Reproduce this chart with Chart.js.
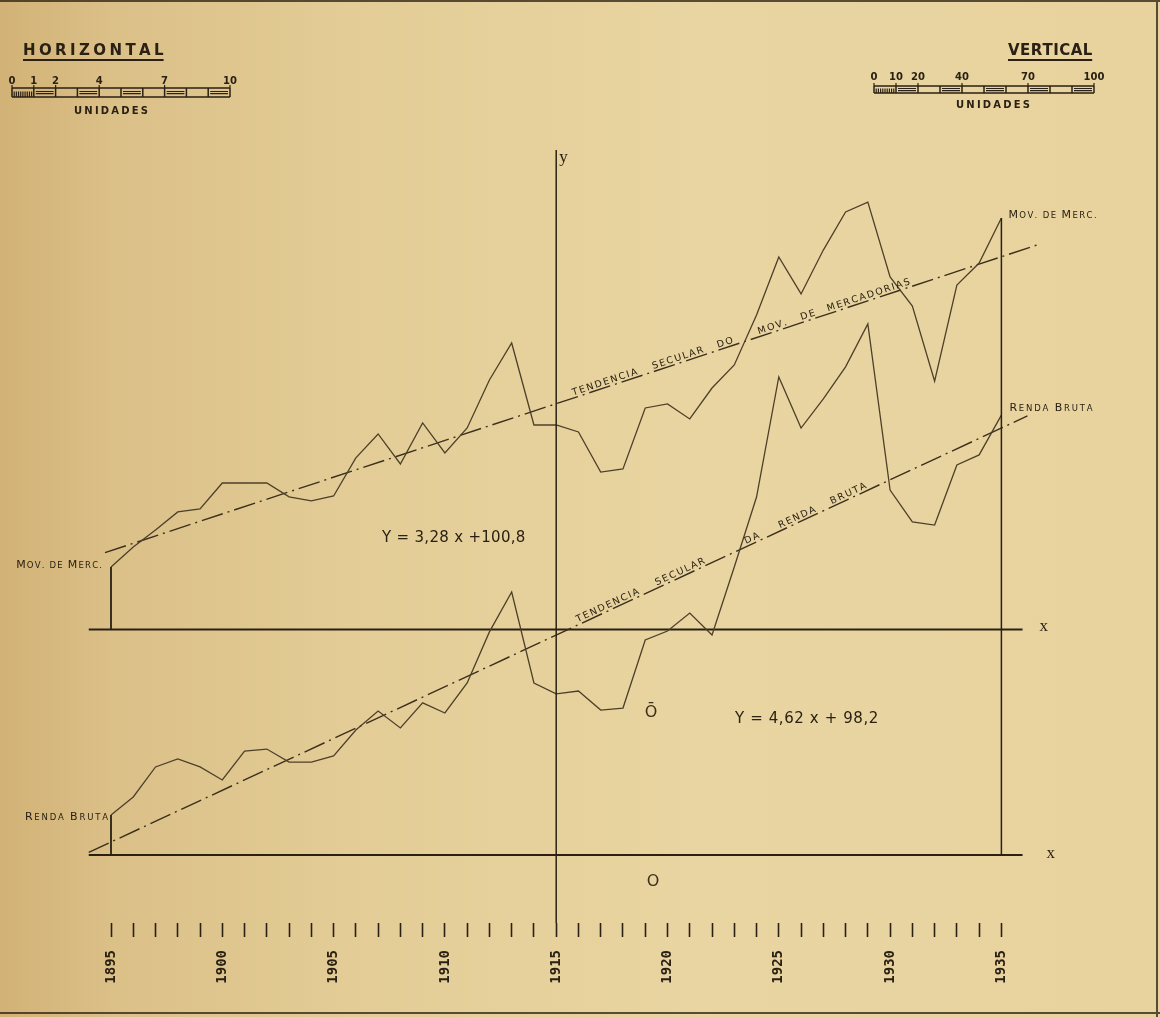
<!DOCTYPE html>
<html>
<head>
<meta charset="utf-8">
<title>Movimento de Mercadorias e Renda Bruta, 1895-1935</title>
<script src="https://cdn.jsdelivr.net/npm/chart.js@4.4.1/dist/chart.umd.min.js"></script>
<style>
  html, body { margin: 0; padding: 0; background: #e6d19c; }
  canvas { display: block; }
</style>
</head>
<body>
<canvas id="grafico" width="1160" height="1017"></canvas>
<script>
// ---- data -------------------------------------------------------------
const years = [1895, 1896, 1897, 1898, 1899, 1900, 1901, 1902, 1903, 1904,
               1905, 1906, 1907, 1908, 1909, 1910, 1911, 1912, 1913, 1914,
               1915, 1916, 1917, 1918, 1919, 1920, 1921, 1922, 1923, 1924,
               1925, 1926, 1927, 1928, 1929, 1930, 1931, 1932, 1933, 1934, 1935];

// Movimento de mercadorias (unidades)
const movMercadorias = [27.9, 36.8, 44.4, 52.5, 53.8, 65.4, 65.4, 65.4, 59.2, 57.4,
                        59.6, 76.6, 87.3, 73.9, 92.2, 78.8, 90.0, 111.4, 127.9, 91.3,
                        91.3, 88.2, 70.3, 71.7, 98.9, 100.7, 94.0, 107.8, 118.1, 140.4,
                        166.3, 149.8, 169.4, 186.4, 190.8, 157.4, 144.4, 110.9, 153.8, 163.6, 183.7];

// Renda bruta (unidades)
const rendaBruta = [17.9, 25.9, 39.3, 42.9, 39.3, 33.5, 46.4, 47.3, 41.5, 41.5,
                    44.2, 55.8, 64.3, 56.7, 67.9, 63.4, 76.8, 99.6, 117.4, 76.8,
                    71.9, 73.2, 64.7, 65.6, 96.0, 100.0, 108.0, 98.2, 128.6, 159.8,
                    213.4, 190.6, 203.6, 217.9, 237.1, 162.9, 148.7, 147.3, 174.1, 178.6, 196.4];

const yearLabels = [1895, 1900, 1905, 1910, 1915, 1920, 1925, 1930, 1935];

// secular trends  Y = a·x + b, x counted in years from the origin year
const originYear = 1915;
const movTrendEq = [3.28, 100.8];
const rendaTrendEq = [4.62, 98.2];
const movTrendSpan = [1894.73, 1936.73];
const rendaTrendSpan = [1894.0, 1936.17];
const baselineSpan = [1894.0, 1935.95];

// words written along each trend line, with the year where each word starts
const movTrendWords = ['TENDENCIA', 'SECULAR', 'DO', 'MOV.', 'DE', 'MERCADORIAS'];
const movTrendWordYears = [1915.80, 1919.39, 1922.30, 1924.14, 1926.06, 1927.25];
const rendaTrendWords = ['TENDENCIA', 'SECULAR', 'DA', 'RENDA', 'BRUTA'];
const rendaTrendWordYears = [1916.02, 1919.57, 1923.57, 1925.10, 1927.43];

// graphic scales printed in the corners
const horizScaleTicks = [0, 1, 2, 4, 7, 10];
const vertScaleTicks = [0, 10, 20, 40, 70, 100];

// ---- styling ----------------------------------------------------------
const INK = '#2a2114';
const PEN = '#4d402a';
const FONT = '"DejaVu Sans", "Liberation Sans", sans-serif';

const trendAt = (eq, yr) => eq[0] * (yr - originYear) + eq[1];

// ---- text helpers -----------------------------------------------------
function spacedText(ctx, str, x, y, gap, align) {
  const chars = [...str];
  const widths = chars.map(ch => ctx.measureText(ch).width);
  const total = widths.reduce((a, b) => a + b, 0) + gap * (chars.length - 1);
  let cx = align === 'center' ? x - total / 2 : align === 'right' ? x - total : x;
  ctx.textAlign = 'left';
  chars.forEach((ch, i) => { ctx.fillText(ch, cx, y); cx += widths[i] + gap; });
  return total;
}

function smallCaps(ctx, str, x, y, big, small, gap, align) {
  const parts = [...str].map(ch => ({ ch: ch.toUpperCase(), size: (ch !== ch.toLowerCase() && ch === ch.toUpperCase()) ? big : small }));
  parts.forEach(p => { ctx.font = `${p.size}px ${FONT}`; p.w = ctx.measureText(p.ch).width; });
  const total = parts.reduce((a, p) => a + p.w, 0) + gap * (parts.length - 1);
  let cx = align === 'right' ? x - total : x;
  ctx.textAlign = 'left';
  parts.forEach(p => { ctx.font = `${p.size}px ${FONT}`; ctx.fillText(p.ch, cx, y); cx += p.w + gap; });
}

function scaleBar(ctx, x0, len, yTop, yBot, ticks, maxVal, labelY) {
  const seg = len / 10;
  const mid = (yTop + yBot) / 2;
  ctx.strokeStyle = INK;
  ctx.lineWidth = 1.5;
  ctx.beginPath();
  ctx.moveTo(x0, yTop); ctx.lineTo(x0 + len, yTop);
  ctx.moveTo(x0, yBot); ctx.lineTo(x0 + len, yBot);
  for (let i = 0; i <= 10; i++) { ctx.moveTo(x0 + i * seg, yTop); ctx.lineTo(x0 + i * seg, yBot); }
  ctx.stroke();
  ctx.lineWidth = 1.2;
  ctx.beginPath();
  for (let i = 1; i < 10; i += 2) {
    ctx.moveTo(x0 + i * seg + 2, mid - 1); ctx.lineTo(x0 + (i + 1) * seg - 2, mid - 1);
    ctx.moveTo(x0 + i * seg + 2, mid + 1.2); ctx.lineTo(x0 + (i + 1) * seg - 2, mid + 1.2);
  }
  // first division subdivided
  for (let k = 1; k < 10; k++) { ctx.moveTo(x0 + k * seg / 10, mid - 1); ctx.lineTo(x0 + k * seg / 10, yBot); }
  ctx.stroke();
  ctx.fillStyle = INK;
  ctx.font = `bold 10px ${FONT}`;
  ticks.forEach(v => {
    const x = x0 + v / maxVal * len;
    ctx.beginPath(); ctx.moveTo(x, yTop - 3); ctx.lineTo(x, yTop); ctx.stroke();
    ctx.textAlign = 'center';
    ctx.fillText(String(v), x, labelY);
  });
}

// ---- drawing of axes, captions and notes ------------------------------
const paper = {
  id: 'paper',
  beforeDraw(chart) {
    const { ctx, width, height } = chart;
    ctx.save();
    const g = ctx.createLinearGradient(0, 0, width, 0);
    g.addColorStop(0, '#d2b276');
    g.addColorStop(0.1, '#dbc088');
    g.addColorStop(0.3, '#e3cc96');
    g.addColorStop(0.6, '#e9d5a1');
    g.addColorStop(1, '#e8d39f');
    ctx.fillStyle = g;
    ctx.fillRect(0, 0, width, height);
    ctx.restore();
  },
  afterDatasetsDraw(chart) {
    const { ctx, scales } = chart;
    const x = scales.x, yM = scales.yM, yR = scales.yR;
    const n = years.length - 1;
    ctx.save();
    ctx.lineCap = 'butt';

    // vertical axis through the origin year
    const xo = x.getPixelForValue(originYear);
    ctx.strokeStyle = INK;
    ctx.lineWidth = 1.5;
    ctx.beginPath();
    ctx.moveTo(xo, 150);
    ctx.lineTo(xo, x.top);
    ctx.stroke();

    // end verticals
    const x0 = x.getPixelForValue(years[0]);
    const x1 = x.getPixelForValue(years[n]);
    ctx.lineWidth = 1.8;
    ctx.beginPath();
    ctx.moveTo(x0, yM.getPixelForValue(0)); ctx.lineTo(x0, yM.getPixelForValue(movMercadorias[0]));
    ctx.moveTo(x0, yR.getPixelForValue(0)); ctx.lineTo(x0, yR.getPixelForValue(rendaBruta[0]));
    ctx.stroke();
    ctx.lineWidth = 1.5;
    ctx.beginPath();
    ctx.moveTo(x1, yR.getPixelForValue(0)); ctx.lineTo(x1, yM.getPixelForValue(movMercadorias[n]));
    ctx.stroke();

    // axis letters
    ctx.fillStyle = INK;
    ctx.font = `17px "Liberation Serif", serif`;
    ctx.textAlign = 'left';
    ctx.textBaseline = 'middle';
    ctx.fillText('y', xo + 3, 158);
    const xe = x.getPixelForValue(baselineSpan[1]);
    ctx.fillText('x', xe + 17, yM.getPixelForValue(0) - 3);
    ctx.fillText('x', xe + 24, yR.getPixelForValue(0) - 1);
    ctx.textBaseline = 'alphabetic';

    // series captions
    ctx.fillStyle = INK;
    smallCaps(ctx, 'Mov. de Merc.', x0 - 9, yM.getPixelForValue(movMercadorias[0]) + 1, 11, 8.5, 1.2, 'right');
    smallCaps(ctx, 'Renda Bruta', x0 - 3, yR.getPixelForValue(rendaBruta[0]) + 5, 11, 8.5, 1.8, 'right');
    smallCaps(ctx, 'Mov. de Merc.', x1 + 7, yM.getPixelForValue(movMercadorias[n]), 11, 8.5, 1.4, 'left');
    smallCaps(ctx, 'Renda Bruta', x1 + 8, yR.getPixelForValue(rendaBruta[n]) - 4, 11, 8.5, 1.8, 'left');

    // words along the trend lines
    const alongLine = (eq, axis, words, wordYears) => {
      const pa = [x.getPixelForValue(1900), axis.getPixelForValue(trendAt(eq, 1900))];
      const pb = [x.getPixelForValue(1930), axis.getPixelForValue(trendAt(eq, 1930))];
      const ang = Math.atan2(pb[1] - pa[1], pb[0] - pa[0]);
      ctx.font = `9.5px ${FONT}`;
      words.forEach((w, i) => {
        const yr = wordYears[i];
        ctx.save();
        ctx.translate(x.getPixelForValue(yr), axis.getPixelForValue(trendAt(eq, yr)));
        ctx.rotate(ang);
        spacedText(ctx, w, 0, -2.5, 1.6, 'left');
        ctx.restore();
      });
    };
    alongLine(movTrendEq, yM, movTrendWords, movTrendWordYears);
    alongLine(rendaTrendEq, yR, rendaTrendWords, rendaTrendWordYears);

    // trend equations
    ctx.font = `15px ${FONT}`;
    spacedText(ctx, 'Y = 3,28 x +100,8', 382, 542, 0.3, 'left');
    spacedText(ctx, 'Y = 4,62 x + 98,2', 735, 723, 0.6, 'left');

    // origin marks
    ctx.font = `16px ${FONT}`;
    ctx.textAlign = 'center';
    ctx.fillStyle = '#3a2e1c';
    ctx.fillText('Ō', 651, 717);
    ctx.fillText('O', 653, 886);

    // graphic scales
    ctx.fillStyle = INK;
    ctx.font = `bold 15px ${FONT}`;
    const wH = spacedText(ctx, 'HORIZONTAL', 23, 55, 3.4, 'left');
    const wV = spacedText(ctx, 'VERTICAL', 1008, 55, 0.4, 'left');
    ctx.lineWidth = 2;
    ctx.beginPath();
    ctx.moveTo(23, 60); ctx.lineTo(23 + wH, 60);
    ctx.moveTo(1008, 60); ctx.lineTo(1008 + wV, 60);
    ctx.stroke();
    scaleBar(ctx, 12, 218, 88, 97, horizScaleTicks, 10, 84);
    scaleBar(ctx, 874, 220, 86, 93, vertScaleTicks, 100, 80);
    ctx.font = `bold 10px ${FONT}`;
    spacedText(ctx, 'UNIDADES', 111, 114, 2.2, 'center');
    spacedText(ctx, 'UNIDADES', 993, 108, 2.2, 'center');

    // sheet edges
    ctx.strokeStyle = 'rgba(40,30,15,0.75)';
    ctx.lineWidth = 2;
    ctx.beginPath();
    ctx.moveTo(0, 1); ctx.lineTo(1160, 1);
    ctx.moveTo(1157, 0); ctx.lineTo(1157, 1017);
    ctx.moveTo(0, 1013); ctx.lineTo(1160, 1013);
    ctx.stroke();
    ctx.restore();
  }
};

// ---- chart ------------------------------------------------------------
const toPoints = vals => years.map((yr, i) => ({ x: yr, y: vals[i] }));
const trendPoints = (eq, span) => span.map(yr => ({ x: yr, y: trendAt(eq, yr) }));
const baseline = () => baselineSpan.map(yr => ({ x: yr, y: 0 }));

const lineStyle = { borderColor: PEN, borderWidth: 1.3, pointRadius: 0, tension: 0, fill: false, clip: false };
const trendStyle = { borderColor: '#3b2f1d', borderWidth: 1.4, borderDash: [22, 5, 2, 5], pointRadius: 0, tension: 0, fill: false, clip: false };
const axisStyle = { borderColor: INK, borderWidth: 2, pointRadius: 0, tension: 0, fill: false, clip: false };

new Chart(document.getElementById('grafico'), {
  type: 'line',
  data: {
    datasets: [
      { label: 'Mov. de Merc.', data: toPoints(movMercadorias), yAxisID: 'yM', ...lineStyle },
      { label: 'Renda Bruta', data: toPoints(rendaBruta), yAxisID: 'yR', ...lineStyle },
      { label: 'Tendência secular do mov. de mercadorias', data: trendPoints(movTrendEq, movTrendSpan), yAxisID: 'yM', ...trendStyle },
      { label: 'Tendência secular da renda bruta', data: trendPoints(rendaTrendEq, rendaTrendSpan), yAxisID: 'yR', ...trendStyle },
      { label: 'eixo x (mercadorias)', data: baseline(), yAxisID: 'yM', ...axisStyle },
      { label: 'eixo x (renda)', data: baseline(), yAxisID: 'yR', ...axisStyle }
    ]
  },
  options: {
    responsive: false,
    animation: false,
    devicePixelRatio: 1,
    layout: { padding: { left: 111, right: 158.6, top: 0, bottom: 0 } },
    plugins: { legend: { display: false }, tooltip: { enabled: false } },
    scales: {
      x: {
        type: 'linear',
        position: 'bottom',
        min: years[0],
        max: years[years.length - 1],
        afterFit: s => { s.height = 94; },
        border: { display: false },
        grid: { drawOnChartArea: false, drawTicks: true, tickLength: 14, tickWidth: 1.6, tickColor: INK },
        ticks: {
          stepSize: 1,
          maxTicksLimit: 100,
          autoSkip: false,
          includeBounds: false,
          minRotation: 90,
          maxRotation: 90,
          padding: 13,
          color: INK,
          font: { family: '"DejaVu Sans Mono", monospace', size: 14, weight: 'bold' },
          callback: v => (yearLabels.includes(v) ? String(v) : '')
        }
      },
      yM: { type: 'linear', display: false, min: -131.03, max: 281.03 },
      yR: { type: 'linear', display: false, min: -30.36, max: 381.70 }
    }
  },
  plugins: [paper]
});
</script>
</body>
</html>
